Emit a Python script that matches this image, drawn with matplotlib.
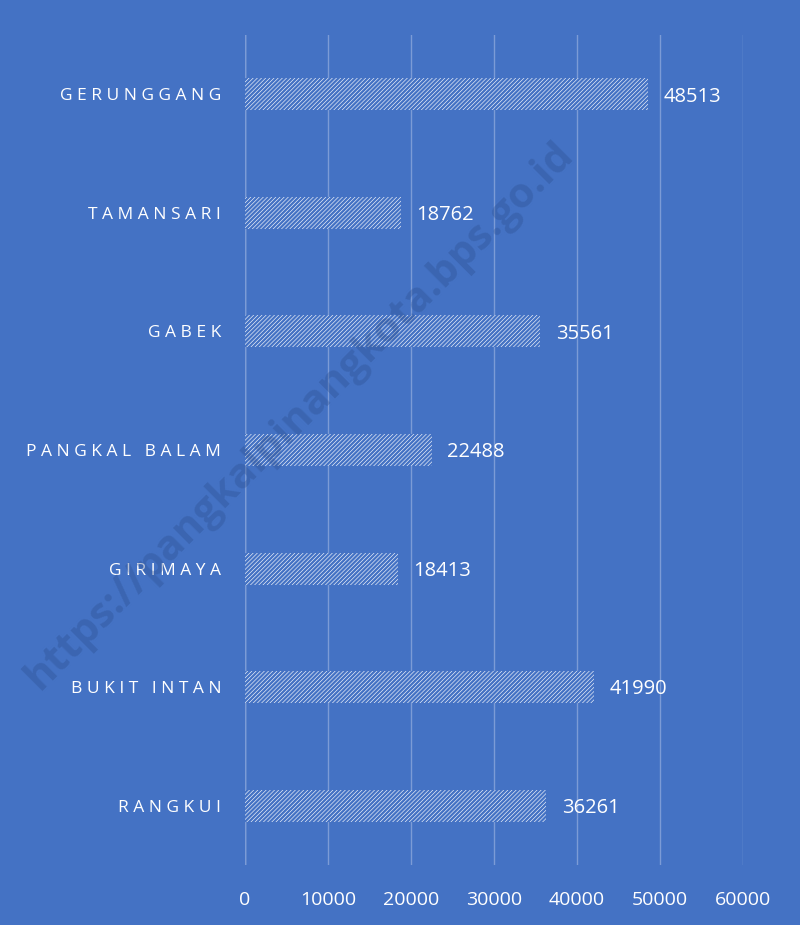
import matplotlib.pyplot as plt

kelurahan = ["RANGKUI", "BUKIT INTAN", "GIRIMAYA", "PANGKAL BALAM",
             "GABEK", "TAMANSARI", "GERUNGGANG"]
penduduk = [36261, 41990, 18413, 22488, 35561, 18762, 48513]
xticks = [0, 10000, 20000, 30000, 40000, 50000, 60000]

blue = "#4472C4"

def spaced(s):
    return " ".join(s)

plt.rcParams['font.family'] = ['Open Sans', 'DejaVu Sans']
plt.rcParams['hatch.color'] = blue
plt.rcParams['hatch.linewidth'] = 1.7

fig = plt.figure(figsize=(8, 9.25), dpi=100, facecolor=blue)
ax = fig.add_axes([0.306, 0.065, 0.623, 0.897])
ax.set_facecolor(blue)

y = range(len(kelurahan))
bars = ax.barh(y, penduduk, height=0.27, color="white", hatch="////////",
               edgecolor=blue, linewidth=0, zorder=3)
for b, v in zip(bars, penduduk):
    ax.text(v + 1900, b.get_y() + b.get_height() / 2 - 0.02, str(v),
            color="white", fontsize=14.5, va="center", ha="left", zorder=4)

ax.set_xlim(0, 60000)
ax.set_ylim(-0.5, len(kelurahan) - 0.5)
ax.set_xticks(xticks)
ax.set_xticklabels([str(t) for t in xticks], color="white", fontsize=14)
ax.set_yticks(list(y))
ax.set_yticklabels([spaced(k) for k in kelurahan], color="white", fontsize=12.5)
ax.tick_params(length=0)
ax.tick_params(axis="y", pad=17)
ax.tick_params(axis="x", pad=19)
ax.grid(axis="x", color="#7C9BD6", linewidth=1, zorder=0)
ax.axvline(0, color="#A9BFE6", linewidth=1, zorder=1)
for s in ax.spines.values():
    s.set_visible(False)

fig.text(0.375, 0.55, "https://pangkalpinangkota.bps.go.id", rotation=45,
         fontsize=30, fontweight="bold", color="#2B4E8E", alpha=0.35,
         ha="center", va="center", zorder=10)

plt.savefig("out.png", facecolor=blue)
